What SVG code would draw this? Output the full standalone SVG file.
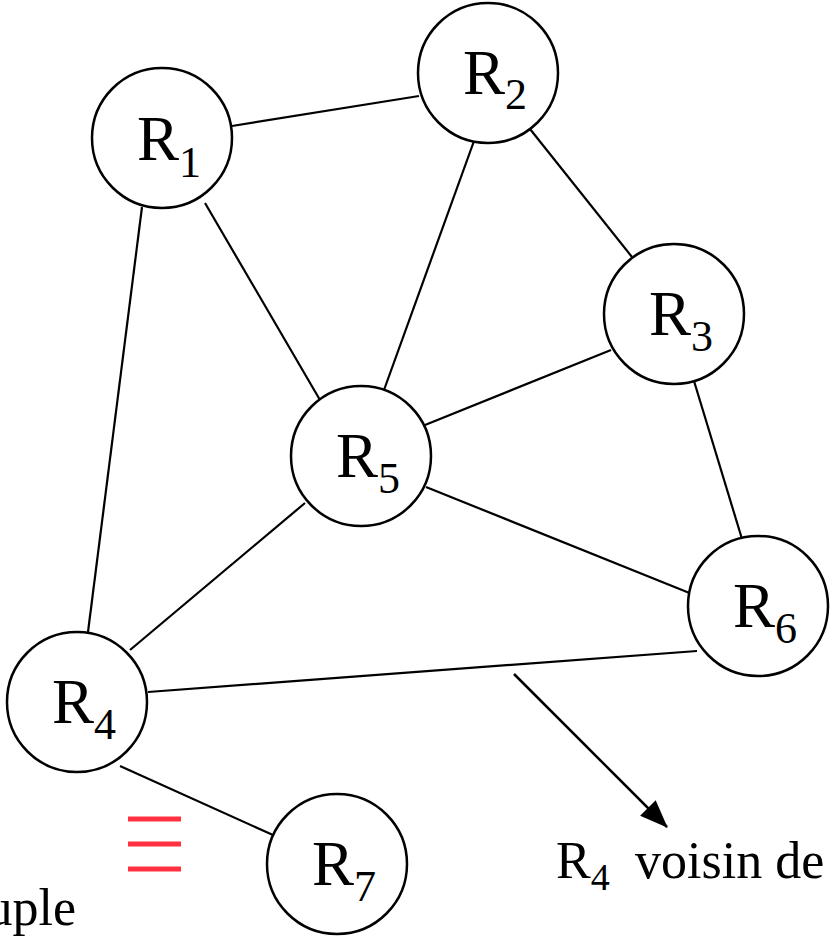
<svg xmlns="http://www.w3.org/2000/svg" width="834" height="939" viewBox="0 0 834 939">
  <style>
    .node circle { fill: #ffffff; stroke: #000000; stroke-width: 2.5; }
    .lbl { font-family: "Liberation Serif", "Times New Roman", serif; font-size: 63px; fill: #000000; }
    .sub { font-size: 44px; }
    .edge { stroke: #000000; stroke-width: 2.2; fill: none; }
    .note { font-family: "Liberation Serif", "Times New Roman", serif; font-size: 52px; fill: #000000; }
    .red { stroke: #ff3040; stroke-width: 5; }
  </style>
  <defs>
    <marker id="arrow" markerWidth="28" markerHeight="22" refX="27" refY="11" orient="auto" markerUnits="userSpaceOnUse" viewBox="0 0 28 22">
      <path d="M0,0 L28,11 L0,22 z" fill="#000000"/>
    </marker>
  </defs>
  <rect width="834" height="939" fill="#ffffff"/>

  <!-- connectors -->
  <g id="connectors">
    <line class="edge" x1="232" y1="126" x2="419" y2="96"/>
    <line class="edge" x1="530" y1="129" x2="632" y2="257"/>
    <line class="edge" x1="474" y1="141" x2="384" y2="390"/>
    <line class="edge" x1="205" y1="203" x2="320" y2="400"/>
    <line class="edge" x1="142" y1="207" x2="88" y2="632"/>
    <line class="edge" x1="611" y1="350" x2="425" y2="425"/>
    <line class="edge" x1="426" y1="487" x2="692" y2="594"/>
    <line class="edge" x1="694" y1="381" x2="742" y2="539"/>
    <line class="edge" x1="305" y1="503" x2="130" y2="650"/>
    <line class="edge" x1="148" y1="692" x2="697" y2="651"/>
    <line class="edge" x1="120" y1="766" x2="273" y2="835"/>
    <line class="edge" x1="514" y1="674" x2="667" y2="827" marker-end="url(#arrow)" style="stroke-width:2.5"/>
  </g>

  <!-- nodes -->
  <g id="R1" class="node">
    <circle cx="162" cy="138" r="70"/>
    <text class="lbl" x="137" y="160">R<tspan class="sub" dy="17">1</tspan></text>
  </g>
  <g id="R2" class="node">
    <circle cx="488" cy="73" r="70"/>
    <text class="lbl" x="463" y="94">R<tspan class="sub" dy="15">2</tspan></text>
  </g>
  <g id="R3" class="node">
    <circle cx="674" cy="314" r="70"/>
    <text class="lbl" x="649" y="335">R<tspan class="sub" dy="16">3</tspan></text>
  </g>
  <g id="R5" class="node">
    <circle cx="361" cy="456" r="70"/>
    <text class="lbl" x="336" y="477">R<tspan class="sub" dy="16">5</tspan></text>
  </g>
  <g id="R6" class="node">
    <circle cx="758" cy="606" r="70"/>
    <text class="lbl" x="733" y="627">R<tspan class="sub" dy="16">6</tspan></text>
  </g>
  <g id="R4" class="node">
    <circle cx="77" cy="702" r="70"/>
    <text class="lbl" x="52" y="723">R<tspan class="sub" dy="16">4</tspan></text>
  </g>
  <g id="R7" class="node">
    <circle cx="337" cy="864" r="70"/>
    <text class="lbl" x="312" y="885">R<tspan class="sub" dy="16">7</tspan></text>
  </g>

  <!-- equivalence sign -->
  <g id="equiv">
    <line class="red" x1="128" y1="819" x2="181" y2="819"/>
    <line class="red" x1="128" y1="844" x2="181" y2="844"/>
    <line class="red" x1="128" y1="869" x2="181" y2="869"/>
  </g>

  <!-- annotations -->
  <text class="note" x="556" y="878">R<tspan font-size="38" dy="12">4</tspan><tspan dy="-12" x="635">voisin de</tspan></text>
  <text class="note" x="76" y="925" text-anchor="end">uple</text>
</svg>
